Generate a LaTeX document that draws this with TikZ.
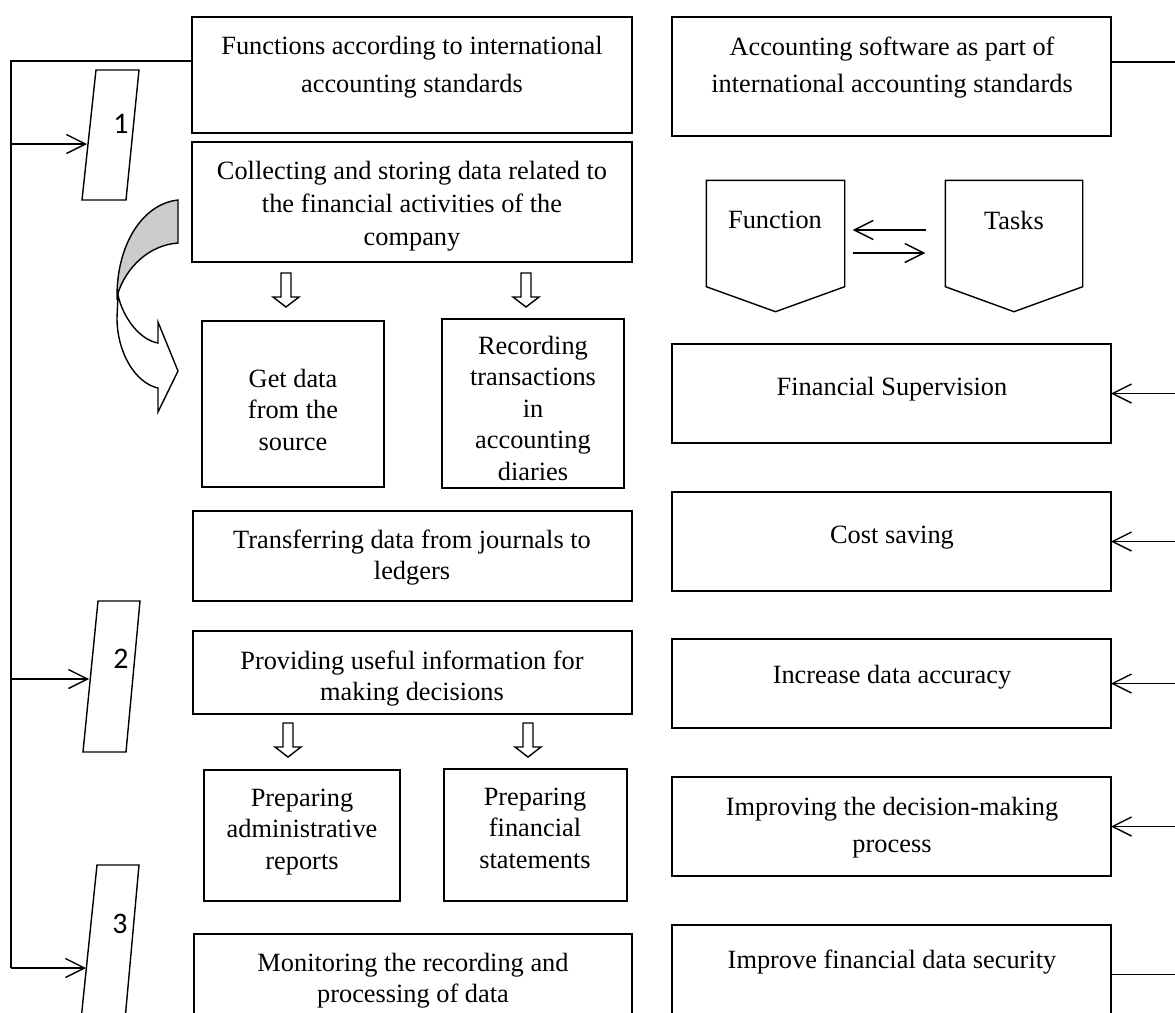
\documentclass[tikz,border=0pt]{standalone}
\usepackage{fontspec}
\setmainfont{Liberation Serif}
\newfontfamily\numfont{Carlito}
\usetikzlibrary{arrows.meta,fit,calc}

\begin{document}
\begin{tikzpicture}[x=0.02cm,y=-0.02cm,line width=0.8pt,
  box/.style={draw,rectangle,inner sep=0pt,outer sep=0pt},
  txt/.style={anchor=north,align=center,inner sep=0pt,font=\fontsize{15}{18}\selectfont},
  txtw/.style={txt,font=\fontsize{15}{21.3}\selectfont},
  num/.style={inner sep=0pt,font=\numfont\fontsize{17}{17}\selectfont},
  opn/.style={-{Straight Barb[length=0.38cm,width=0.38cm]}},
  pics/hdown/.style={code={%
    \draw (-5,0) -- (5,0) -- (5,24) -- (13,24) -- (0,34) -- (-13,24) -- (-5,24) -- cycle;}}]
% frame 1175 x 1012 px, 1px = 0.02cm, y runs downwards
\useasboundingbox (0,0) rectangle (1175,1012);
\clip (0,0) rectangle (1175,1012);
\coordinate (ledge) at (11,0);
\coordinate (redge) at (1175,0);
%
% left column
\node[box,fit={(192,17) (632,133)}] (fun) {};
\node[txtw] (fun-t) at (412,36) {Functions according to international\\accounting standards};
\node[box,fit={(192,142) (632,262)}] (col) {};
\node[txt,font=\fontsize{15}{19}\selectfont] (col-t) at (412,160) {Collecting and storing data related to\\the financial activities of the\\company};
\node[box,fit={(202,321) (384,487)}] (get) {};
\node[txt] (get-t) at (293,368) {Get data\\from the\\source};
\node[box,fit={(442,319) (624,488)}] (rec) {};
\node[txt] (rec-t) at (533,335) {Recording\\transactions\\in\\accounting\\diaries};
\node[box,fit={(193,511) (632,601)}] (trf) {};
\node[txt] (trf-t) at (412,529) {Transferring data from journals to\\ledgers};
\node[box,fit={(193,631) (632,714)}] (prv) {};
\node[txt] (prv-t) at (412,650) {Providing useful information for\\making decisions};
\node[box,fit={(204,770) (400,901)}] (adm) {};
\node[txt] (adm-t) at (302,788) {Preparing\\administrative\\reports};
\node[box,fit={(444,769) (627,901)}] (fst) {};
\node[txt] (fst-t) at (535,787) {Preparing\\financial\\statements};
\node[box,fit={(194,934) (632,1033)}] (mon) {};
\node[txt] (mon-t) at (413,952) {Monitoring the recording and\\processing of data};
\pic at (286,273) {hdown};
\pic at (526,273) {hdown};
\pic at (288,723) {hdown};
\pic at (528,723) {hdown};
%
% curved arrow
\draw[fill=white] (118,295) .. controls (123,318) and (140,340) .. (158,343)
 -- (158,322) -- (178,371) -- (158,412) -- (158,388)
 .. controls (135,383) and (117,352) .. (117,318) -- cycle;
\draw[fill=black!20] (178,200) .. controls (142,204) and (117,245) .. (117,296)
 .. controls (126,266) and (150,245) .. (178,243) -- cycle;
%
% numbered tabs and spine
\draw (96,70) -- (139,70) -- (126,200) -- (82,200) -- cycle;
\draw (98,601) -- (140,601) -- (126,752) -- (83,752) -- cycle;
\draw (97,865) -- (139,865) -- (125,1020) -- (81,1020) -- cycle;
\node[num] (n1) at (121,124) {1};
\node[num] (n2) at (121,659) {2};
\node[num] (n3) at (120,924) {3};
\coordinate (p1) at (87,144);
\coordinate (p2) at (89,679);
\coordinate (p3) at (86,968);
\coordinate (fj) at ($(fun.north west)+(0,44)$);
\draw (fj) -| (p3 -| ledge);
\draw[opn] (p1 -| ledge) -- (p1);
\draw[opn] (p2 -| ledge) -- (p2);
\draw[opn] (p3 -| ledge) -- (p3);
%
% right column
\node[box,fit={(672,17) (1111,136)}] (acc) {};
\node[txtw] (acc-t) at (892,36) {Accounting software as part of\\international accounting standards};
\node[draw=none,inner sep=0pt,fit={(707,181) (844,286)}] (fn) {};
\draw (fn.south west) -- (fn.north west) -- (fn.north east) -- (fn.south east)
 -- ($(fn.south)+(0,25)$) -- cycle;
\node[txt] (fn-t) at (775,210) {Function};
\node[draw=none,inner sep=0pt,fit={(946,181) (1082,286)}] (tk) {};
\draw (tk.south west) -- (tk.north west) -- (tk.north east) -- (tk.south east)
 -- ($(tk.south)+(0,25)$) -- cycle;
\node[txt] (tk-t) at (1014,210) {Tasks};
\draw[opn] ($(tk.west)+(-19,-3.5)$) -- ($(fn.east)+(8,-3.5)$);
\draw[opn] ($(fn.east)+(8,19.5)$) -- ($(tk.west)+(-20,19.5)$);
\node[box,fit={(672,344) (1111,443)}] (fsu) {};
\node[txtw] (fsu-t) at (892,376) {Financial Supervision};
\node[box,fit={(672,492) (1111,591)}] (cst) {};
\node[txtw] (cst-t) at (892,525) {Cost saving};
\node[box,fit={(672,639) (1111,728)}] (inc) {};
\node[txtw] (inc-t) at (892,664) {Increase data accuracy};
\node[box,fit={(672,777) (1111,876)}] (imp) {};
\node[txtw] (imp-t) at (892,796) {Improving the decision-making\\process};
\node[box,fit={(672,925) (1111,1024)}] (sec) {};
\node[txtw] (sec-t) at (892,949) {Improve financial data security};
\coordinate (aj) at ($(acc.north east)+(0,45)$);
\draw (aj) -- (aj -| redge);
\foreach \b in {fsu,cst,inc,imp}
  \draw[opn] (\b.east -| redge) -- (\b.east);
\draw (sec.east) -- (sec.east -| redge);
\end{tikzpicture}
\end{document}
